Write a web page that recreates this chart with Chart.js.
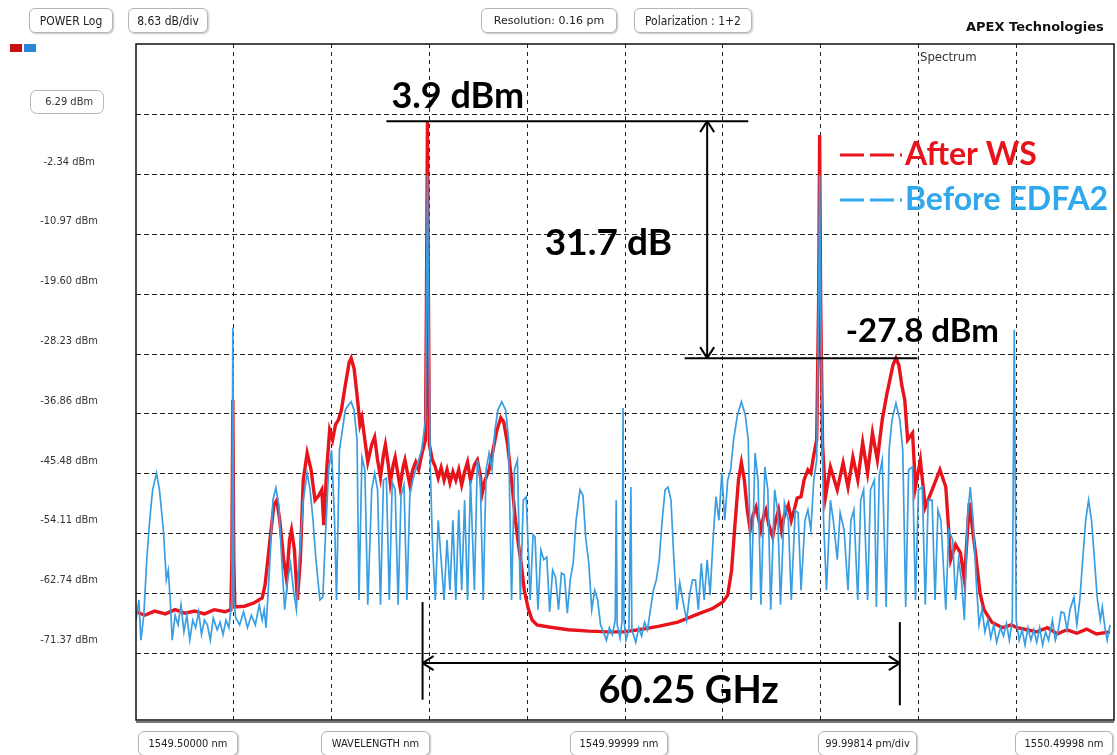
<!DOCTYPE html>
<html>
<head>
<meta charset="utf-8">
<script src="https://cdn.jsdelivr.net/npm/chart.js@4.4.0/dist/chart.umd.min.js"></script>
<style>
  html, body { margin: 0; padding: 0; background: #fff; }
  #wrap { position: relative; width: 1117px; height: 755px; overflow: hidden; }
  #spectrum { position: absolute; left: 0; top: 0; }
  .tag { position: absolute; height: 23px; display: flex; align-items: center; justify-content: center;
         border: 1px solid #b5b5b5; border-radius: 6px; box-shadow: 1px 1px 2px #c8c8c8;
         font: 11px "DejaVu Sans Condensed", "Liberation Sans", sans-serif;
         color: #222; background: #fff; white-space: nowrap; }
  .brand { position: absolute; left: 966px; top: 19px; font: bold 13px "DejaVu Sans", "Liberation Sans", sans-serif; color: #111; }
  .chip { position: absolute; top: 44px; width: 12px; height: 8px; }
</style>
</head>
<body>
<div id="wrap">
  <canvas id="spectrum" width="1117" height="755"></canvas>
  <div class="tag" style="left:29px;top:8px;width:82px;font-size:12px">POWER Log</div>
  <div class="tag" style="left:128px;top:8px;width:78px;font-size:12px">8.63 dB/div</div>
  <div class="tag" style="left:481px;top:8px;width:134px;font-family:'DejaVu Sans',sans-serif">Resolution: 0.16 pm</div>
  <div class="tag" style="left:634px;top:8px;width:116px;font-size:12px">Polarization : 1+2</div>
  <div class="brand">APEX Technologies</div>
  <div class="chip" style="left:10px;background:#c81010"></div>
  <div class="chip" style="left:24px;background:#2a86d6"></div>
  <div class="tag" style="left:138px;top:731px;width:98px">1549.50000 nm</div>
  <div class="tag" style="left:321px;top:731px;width:107px">WAVELENGTH nm</div>
  <div class="tag" style="left:570px;top:731px;width:96px">1549.99999 nm</div>
  <div class="tag" style="left:818px;top:731px;width:97px">99.99814 pm/div</div>
  <div class="tag" style="left:1015px;top:731px;width:96px">1550.49998 nm</div>
</div>
<script>
// After WS (red trace), wavelength in nm / power in dBm
const wsWavelength = [
  1549.500,1549.509,1549.519,1549.530,1549.540,1549.550,1549.560,1549.570,1549.580,1549.591,
  1549.597,1549.598,1549.599,1549.600,1549.601,1549.611,1549.621,1549.629,1549.632,1549.637,
  1549.641,1549.644,1549.647,1549.651,1549.654,1549.657,1549.659,1549.662,1549.665,1549.668,
  1549.671,1549.675,1549.679,1549.683,1549.687,1549.690,1549.692,1549.695,1549.698,1549.701,
  1549.704,1549.707,1549.710,1549.714,1549.718,1549.720,1549.723,1549.726,1549.729,1549.731,
  1549.734,1549.737,1549.741,1549.744,1549.747,1549.750,1549.753,1549.755,1549.758,1549.760,
  1549.763,1549.765,1549.768,1549.770,1549.773,1549.775,1549.778,1549.780,1549.783,1549.786,
  1549.789,1549.792,1549.796,1549.797,1549.798,1549.799,1549.800,1549.803,1549.806,1549.809,
  1549.812,1549.815,1549.818,1549.821,1549.824,1549.827,1549.830,1549.833,1549.836,1549.839,
  1549.842,1549.846,1549.849,1549.852,1549.854,1549.857,1549.861,1549.865,1549.869,1549.873,
  1549.876,1549.880,1549.884,1549.888,1549.891,1549.894,1549.897,1549.901,1549.905,1549.910,
  1549.922,1549.942,1549.963,1549.983,1549.998,1550.014,1550.034,1550.054,1550.075,1550.090,
  1550.100,1550.105,1550.109,1550.112,1550.116,1550.119,1550.122,1550.125,1550.128,1550.131,
  1550.134,1550.137,1550.139,1550.142,1550.144,1550.147,1550.151,1550.154,1550.157,1550.160,
  1550.163,1550.167,1550.170,1550.173,1550.176,1550.180,1550.183,1550.187,1550.190,1550.193,
  1550.196,1550.198,1550.199,1550.200,1550.202,1550.205,1550.210,1550.217,1550.223,1550.228,
  1550.233,1550.238,1550.243,1550.248,1550.253,1550.258,1550.263,1550.268,1550.274,1550.277,
  1550.280,1550.283,1550.286,1550.289,1550.294,1550.297,1550.302,1550.307,1550.314,1550.322,
  1550.328,1550.333,1550.338,1550.343,1550.347,1550.352,1550.358,1550.363,1550.367,1550.375,
  1550.386,1550.395,1550.401,1550.411,1550.421,1550.432,1550.442,1550.452,1550.462,1550.472,
  1550.482,1550.496
];
const wsPower = [
  -65.4,-65.9,-65.3,-65.7,-65.1,-65.6,-65.3,-65.7,-65.1,-65.4,
  -65.1,-57.9,-34.8,-57.9,-64.7,-64.6,-64.1,-63.4,-61.5,-55.0,
  -50.0,-49.3,-52.2,-57.9,-60.8,-55.0,-53.6,-56.5,-63.7,-57.9,
  -46.4,-42.5,-44.9,-49.3,-48.6,-47.8,-52.9,-44.9,-39.2,-40.6,
  -38.4,-37.7,-36.3,-32.7,-29.4,-28.8,-30.3,-34.1,-38.4,-37.4,
  -40.6,-43.8,-41.3,-40.2,-43.5,-46.0,-42.8,-41.3,-44.2,-46.8,
  -44.2,-43.1,-45.7,-47.4,-44.6,-43.5,-45.7,-47.1,-44.9,-43.8,
  -44.9,-42.8,-40.6,-20.4,5.3,-20.4,-41.3,-43.5,-44.5,-46.1,
  -44.6,-46.4,-44.9,-46.8,-45.2,-46.4,-44.9,-47.1,-45.2,-43.8,
  -46.4,-44.2,-43.5,-45.7,-48.3,-46.4,-44.9,-42.1,-39.2,-37.4,
  -38.0,-41.3,-46.4,-52.2,-55.7,-58.6,-62.3,-64.9,-66.6,-67.3,
  -67.6,-68.0,-68.2,-68.3,-68.3,-68.0,-67.5,-66.9,-65.7,-64.9,
  -64.0,-63.0,-59.4,-53.6,-46.4,-43.9,-46.4,-50.7,-53.6,-51.4,
  -50.3,-52.2,-53.6,-51.4,-50.7,-52.9,-54.6,-52.2,-50.7,-53.6,
  -51.4,-50.0,-52.2,-50.7,-49.0,-48.8,-46.4,-44.9,-45.4,-42.8,
  -40.6,-20.4,3.4,-20.4,-41.3,-48.8,-44.5,-47.8,-43.9,-47.4,
  -43.1,-46.4,-41.0,-45.4,-39.6,-43.5,-37.7,-33.8,-29.8,-28.8,
  -29.8,-32.7,-34.8,-40.6,-39.6,-47.4,-43.5,-50.3,-47.8,-44.9,
  -47.4,-57.9,-55.7,-56.9,-60.8,-49.7,-56.5,-62.7,-65.1,-66.9,
  -67.7,-67.3,-67.7,-68.0,-68.3,-67.7,-68.6,-68.0,-68.5,-67.9,
  -68.6,-68.3
];

// Before EDFA2 (blue trace)
const edfaWavelength = [
  1549.500,1549.503,1549.505,1549.508,1549.511,1549.514,1549.517,1549.521,1549.524,1549.528,
  1549.531,1549.533,1549.535,1549.537,1549.540,1549.543,1549.546,1549.549,1549.552,1549.555,
  1549.558,1549.561,1549.564,1549.567,1549.570,1549.573,1549.576,1549.579,1549.583,1549.586,
  1549.589,1549.592,1549.595,1549.598,1549.599,1549.600,1549.602,1549.606,1549.610,1549.614,
  1549.618,1549.622,1549.626,1549.629,1549.631,1549.633,1549.637,1549.640,1549.643,1549.646,
  1549.649,1549.652,1549.655,1549.658,1549.661,1549.664,1549.667,1549.671,1549.675,1549.678,
  1549.681,1549.684,1549.688,1549.691,1549.694,1549.697,1549.700,1549.703,1549.705,1549.708,
  1549.711,1549.714,1549.717,1549.720,1549.723,1549.726,1549.728,1549.731,1549.734,1549.737,
  1549.741,1549.744,1549.747,1549.750,1549.753,1549.756,1549.759,1549.762,1549.765,1549.768,
  1549.771,1549.774,1549.777,1549.780,1549.783,1549.786,1549.789,1549.792,1549.796,1549.797,
  1549.798,1549.799,1549.801,1549.803,1549.806,1549.809,1549.812,1549.815,1549.818,1549.821,
  1549.824,1549.827,1549.830,1549.833,1549.836,1549.839,1549.842,1549.846,1549.849,1549.852,
  1549.855,1549.858,1549.861,1549.864,1549.867,1549.870,1549.874,1549.878,1549.881,1549.884,
  1549.887,1549.890,1549.893,1549.896,1549.899,1549.903,1549.906,1549.908,1549.911,1549.914,
  1549.917,1549.920,1549.923,1549.926,1549.929,1549.932,1549.935,1549.938,1549.941,1549.944,
  1549.947,1549.950,1549.954,1549.957,1549.960,1549.963,1549.966,1549.969,1549.972,1549.975,
  1549.978,1549.981,1549.984,1549.987,1549.990,1549.991,1549.992,1549.995,1549.997,1549.998,
  1549.999,1550.001,1550.004,1550.006,1550.007,1550.011,1550.014,1550.017,1550.020,1550.023,
  1550.026,1550.029,1550.032,1550.035,1550.038,1550.041,1550.044,1550.047,1550.050,1550.053,
  1550.056,1550.059,1550.063,1550.066,1550.069,1550.072,1550.075,1550.078,1550.081,1550.084,
  1550.087,1550.090,1550.093,1550.096,1550.099,1550.102,1550.105,1550.108,1550.111,1550.115,
  1550.119,1550.123,1550.126,1550.129,1550.133,1550.136,1550.139,1550.143,1550.146,1550.149,
  1550.153,1550.156,1550.159,1550.163,1550.167,1550.170,1550.174,1550.177,1550.180,1550.184,
  1550.187,1550.190,1550.193,1550.196,1550.198,1550.199,1550.200,1550.203,1550.206,1550.210,
  1550.213,1550.217,1550.220,1550.224,1550.228,1550.231,1550.234,1550.238,1550.241,1550.244,
  1550.248,1550.251,1550.255,1550.257,1550.260,1550.263,1550.267,1550.270,1550.273,1550.277,
  1550.281,1550.284,1550.287,1550.290,1550.294,1550.297,1550.300,1550.304,1550.307,1550.310,
  1550.314,1550.317,1550.320,1550.323,1550.328,1550.331,1550.335,1550.338,1550.341,1550.344,
  1550.347,1550.350,1550.353,1550.356,1550.359,1550.362,1550.365,1550.368,1550.371,1550.374,
  1550.377,1550.380,1550.384,1550.387,1550.390,1550.393,1550.396,1550.398,1550.400,1550.403,
  1550.406,1550.409,1550.412,1550.415,1550.418,1550.421,1550.424,1550.427,1550.430,1550.433,
  1550.437,1550.440,1550.443,1550.446,1550.449,1550.452,1550.455,1550.459,1550.462,1550.465,
  1550.468,1550.471,1550.474,1550.477,1550.480,1550.483,1550.486,1550.488,1550.491,1550.493,
  1550.496
];
const edfaPower = [
  -66.6,-63.7,-69.5,-65.9,-57.9,-52.2,-47.8,-45.4,-47.8,-53.6,
  -60.8,-59.4,-63.7,-69.5,-65.9,-67.3,-64.4,-68.3,-65.9,-69.5,
  -66.6,-67.7,-65.4,-68.7,-66.6,-67.3,-69.5,-66.3,-68.0,-66.9,
  -68.7,-66.6,-67.7,-63.7,-24.4,-63.7,-66.3,-67.3,-65.4,-67.7,
  -65.9,-67.3,-64.4,-66.6,-65.1,-67.7,-57.9,-49.3,-47.5,-50.0,
  -57.9,-65.1,-60.8,-58.4,-62.3,-65.1,-57.9,-49.3,-45.4,-47.8,
  -52.2,-57.9,-63.7,-63.3,-53.6,-44.9,-42.1,-52.2,-63.7,-42.1,
  -39.2,-36.3,-35.6,-35.1,-36.3,-40.6,-63.7,-43.1,-44.9,-64.4,
  -47.8,-45.4,-47.8,-64.4,-46.4,-46.1,-63.7,-46.7,-47.8,-64.4,
  -48.6,-47.1,-63.7,-48.6,-46.4,-44.9,-43.5,-42.1,-37.7,-20.4,
  -2.4,-20.4,-44.9,-55.0,-63.7,-52.2,-57.9,-63.7,-55.0,-62.3,
  -52.2,-63.7,-50.7,-62.3,-49.3,-63.7,-46.4,-62.3,-43.5,-46.4,
  -63.7,-44.9,-42.5,-44.9,-39.2,-36.3,-35.1,-36.3,-40.6,-63.7,
  -44.9,-43.5,-63.7,-49.3,-48.8,-63.7,-54.3,-54.6,-65.1,-56.5,
  -57.9,-57.5,-65.4,-59.4,-60.4,-65.1,-59.8,-60.1,-65.6,-60.8,
  -58.4,-52.2,-47.8,-48.6,-55.0,-58.4,-65.1,-62.3,-63.7,-67.3,
  -68.3,-69.5,-67.7,-68.7,-66.6,-49.3,-67.3,-69.2,-66.6,-36.0,
  -66.6,-69.5,-68.0,-47.4,-68.0,-69.8,-67.7,-68.9,-66.9,-68.0,
  -65.1,-62.3,-60.8,-57.9,-52.2,-47.8,-47.4,-49.3,-57.9,-65.1,
  -61.2,-63.7,-66.6,-63.0,-60.8,-60.8,-65.1,-58.4,-63.7,-57.9,
  -63.0,-55.0,-48.8,-52.2,-45.4,-52.2,-46.4,-44.9,-40.6,-37.0,
  -35.1,-37.0,-40.6,-63.7,-42.5,-46.4,-64.4,-44.5,-47.8,-65.1,
  -47.8,-50.7,-64.4,-49.7,-52.2,-63.7,-50.8,-51.1,-62.3,-52.2,
  -50.7,-53.6,-46.4,-43.5,-20.4,-2.4,-20.4,-52.2,-62.3,-49.3,
  -52.2,-57.9,-51.1,-53.6,-62.3,-52.2,-50.7,-63.7,-49.3,-47.8,
  -63.7,-47.8,-46.4,-64.7,-45.7,-43.5,-64.7,-42.1,-37.7,-35.3,
  -37.7,-42.1,-64.7,-44.9,-44.5,-63.7,-47.8,-47.4,-64.4,-49.3,
  -49.3,-63.7,-50.7,-52.2,-65.1,-53.6,-55.0,-63.7,-57.9,-60.8,
  -66.6,-52.2,-47.4,-52.2,-60.8,-67.3,-65.1,-68.3,-66.6,-69.2,
  -67.3,-69.8,-67.7,-68.9,-67.1,-69.5,-66.6,-24.7,-66.6,-69.5,
  -68.0,-70.2,-67.7,-69.5,-68.0,-69.8,-67.7,-70.2,-68.3,-69.5,
  -66.6,-69.5,-68.0,-65.4,-65.6,-68.0,-65.1,-63.3,-67.3,-63.7,
  -57.9,-52.2,-49.3,-52.2,-57.9,-63.7,-66.6,-64.7,-68.0,-69.5,
  -67.3
];

// axis grid (OSA screen: 8.63 dB/div, 0.1 nm/div)
const yTickValues = [6.29, -2.34, -10.97, -19.60, -28.23, -36.86, -45.48, -54.11, -62.74, -71.37];
const yTickLabels = ['6.29 dBm', '-2.34 dBm', '-10.97 dBm', '-19.60 dBm', '-28.23 dBm',
                     '-36.86 dBm', '-45.48 dBm', '-54.11 dBm', '-62.74 dBm', '-71.37 dBm'];
const xTickValues = [1549.6, 1549.7, 1549.8, 1549.9, 1550.0, 1550.1, 1550.2, 1550.3, 1550.4];

// hand-drawn markers of the figure (data units)
const peakLevel = 5.4, sideLevel = -28.8;
const peakLine = [1549.756, 1550.126];
const sideLine = [1550.061, 1550.299];
const gapArrowX = 1550.084;
const spacingEnds = [1549.793, 1550.281];
const spacingLevel = -72.8;

const toPoints = (xs, ys) => xs.map((x, i) => ({ x: x, y: ys[i] }));

const markers = {
  id: 'markers',
  afterDraw(chart) {
    const { ctx, chartArea: a, scales: { x, y } } = chart;
    ctx.save();
    // frame
    ctx.strokeStyle = '#111';
    ctx.lineWidth = 1.5;
    ctx.strokeRect(a.left, a.top, a.right - a.left, a.bottom - a.top);
    ctx.strokeStyle = '#777';
    ctx.lineWidth = 2;
    ctx.beginPath(); ctx.moveTo(a.left, a.bottom + 2); ctx.lineTo(a.right, a.bottom + 2); ctx.stroke();

    // box around the reference level label
    const ry = y.getPixelForValue(yTickValues[0]) - 13;
    ctx.strokeStyle = '#b5b5b5';
    ctx.lineWidth = 1;
    ctx.beginPath();
    ctx.roundRect(30.5, ry - 11.5, 73, 23, 6);
    ctx.stroke();

    // annotation lines
    ctx.strokeStyle = '#000';
    ctx.lineWidth = 2;
    const line = (x1, y1, x2, y2) => { ctx.beginPath(); ctx.moveTo(x1, y1); ctx.lineTo(x2, y2); ctx.stroke(); };
    const pTop = y.getPixelForValue(peakLevel), pSide = y.getPixelForValue(sideLevel);
    line(x.getPixelForValue(peakLine[0]), pTop, x.getPixelForValue(peakLine[1]), pTop);
    line(x.getPixelForValue(sideLine[0]), pSide, x.getPixelForValue(sideLine[1]), pSide);
    const ax = x.getPixelForValue(gapArrowX);
    line(ax, pTop, ax, pSide);
    line(ax - 7, pTop + 11, ax, pTop); line(ax + 7, pTop + 11, ax, pTop);
    line(ax - 7, pSide - 11, ax, pSide); line(ax + 7, pSide - 11, ax, pSide);

    const sy = y.getPixelForValue(spacingLevel);
    const sx1 = x.getPixelForValue(spacingEnds[0]), sx2 = x.getPixelForValue(spacingEnds[1]);
    line(sx1, sy, sx2, sy);
    line(sx1 + 11, sy - 7, sx1, sy); line(sx1 + 11, sy + 7, sx1, sy);
    line(sx2 - 11, sy - 7, sx2, sy); line(sx2 - 11, sy + 7, sx2, sy);
    line(sx1, y.getPixelForValue(-64.0), sx1, y.getPixelForValue(-78.1));
    line(sx2, y.getPixelForValue(-66.9), sx2, y.getPixelForValue(-78.9));

    // annotation text
    ctx.fillStyle = '#000';
    ctx.textAlign = 'center';
    ctx.textBaseline = 'middle';
    ctx.font = 'bold 36px Lato, "Open Sans", sans-serif';
    ctx.fillText('3.9 dBm', x.getPixelForValue(1549.829), y.getPixelForValue(9.0));
    ctx.font = 'bold 37px Lato, "Open Sans", sans-serif';
    ctx.fillText('31.7 dB', x.getPixelForValue(1549.983), y.getPixelForValue(-12.2));
    ctx.font = 'bold 33px Lato, "Open Sans", sans-serif';
    ctx.fillText('-27.8 dBm', x.getPixelForValue(1550.304), y.getPixelForValue(-24.9));
    ctx.font = 'bold 38px Lato, "Open Sans", sans-serif';
    ctx.fillText('60.25 GHz', x.getPixelForValue(1550.065), y.getPixelForValue(-76.8));

    // legend
    const lx = a.right - 276;
    ctx.lineWidth = 3;
    ctx.setLineDash([24, 6]);
    ctx.strokeStyle = '#e8141c';
    line(lx + 2, 155, lx + 64, 155);
    ctx.strokeStyle = '#2fa8ec';
    line(lx + 2, 200, lx + 64, 200);
    ctx.setLineDash([]);
    ctx.textAlign = 'left';
    ctx.font = 'bold 32px Lato, "Open Sans", sans-serif';
    ctx.fillStyle = '#e8141c';
    ctx.fillText('After WS', lx + 67, 155);
    ctx.fillStyle = '#2fa8ec';
    ctx.fillText('Before EDFA2', lx + 67, 200);

    ctx.font = '13px "DejaVu Sans Condensed", "Liberation Sans", sans-serif';
    ctx.fillStyle = '#333';
    ctx.fillText('Spectrum', a.right - 194, a.top + 14);
    ctx.restore();
  }
};

new Chart(document.getElementById('spectrum'), {
  type: 'line',
  data: {
    datasets: [
      {
        label: 'Before EDFA2',
        data: toPoints(edfaWavelength, edfaPower),
        borderColor: '#3a9ee2',
        borderWidth: 1.7,
        pointRadius: 0,
        tension: 0,
        order: 0
      },
      {
        label: 'After WS',
        data: toPoints(wsWavelength, wsPower),
        borderColor: '#e8141c',
        borderWidth: 3.4,
        pointRadius: 0,
        tension: 0,
        order: 1
      }
    ]
  },
  options: {
    responsive: false,
    animation: false,
    layout: { padding: { top: 44, bottom: 35, right: 3, left: 0 } },
    plugins: { legend: { display: false }, tooltip: { enabled: false } },
    scales: {
      x: {
        type: 'linear',
        min: 1549.5,
        max: 1550.49998,
        afterBuildTicks: s => { s.ticks = xTickValues.map(v => ({ value: v })); },
        afterFit: s => { s.height = 0; s.paddingLeft = 0; s.paddingRight = 0; },
        ticks: { display: false },
        grid: { color: '#222', lineWidth: 1, drawTicks: false },
        border: { display: false, dash: [4, 4] }
      },
      y: {
        min: -81.02,
        max: 16.53,
        afterBuildTicks: s => { s.ticks = yTickValues.map(v => ({ value: v })); },
        afterFit: s => { s.width = 136; s.paddingTop = 0; s.paddingBottom = 0; },
        ticks: {
          autoSkip: false,
          crossAlign: 'center',
          padding: 38,
          labelOffset: -13,
          color: '#333',
          font: { family: '"DejaVu Sans Condensed", "Liberation Sans", sans-serif', size: 11 },
          callback: (v, i) => yTickLabels[i]
        },
        grid: { color: '#222', lineWidth: 1, drawTicks: false },
        border: { display: false, dash: [5, 3] }
      }
    }
  },
  plugins: [markers]
});
</script>
</body>
</html>
